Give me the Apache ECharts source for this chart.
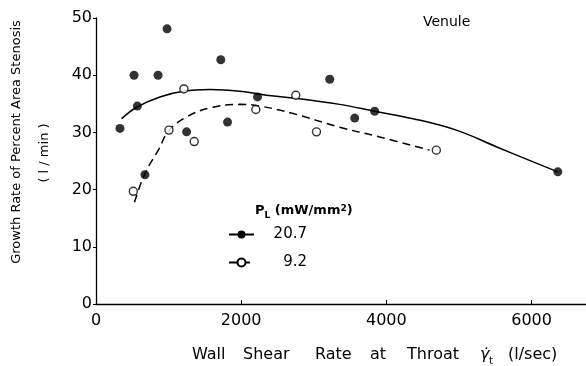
<!DOCTYPE html>
<html>
<head>
<meta charset="utf-8">
<script src="https://cdn.jsdelivr.net/npm/echarts@6/dist/echarts.min.js"></script>
<style>
  html, body { margin: 0; padding: 0; background: #fff; }
  #main { width: 586px; height: 366px; }
</style>
</head>
<body>
<div id="main"></div>
<script>
// measured points, PL = 20.7 mW/mm2 (filled)
const shear207 = [330, 524, 569, 674, 855, 979, 1248, 1719, 1812, 2225, 3220, 3564, 3839, 6362];
const rate207 = [30.7, 40.0, 34.6, 22.6, 40.0, 48.1, 30.1, 42.7, 31.8, 36.2, 39.3, 32.5, 33.7, 23.1];

// measured points, PL = 9.2 mW/mm2 (open)
const shear92 = [514, 1005, 1211, 1353, 2202, 2752, 3037, 4688];
const rate92 = [19.7, 30.4, 37.6, 28.4, 34.0, 36.5, 30.1, 26.9];

// fitted curves
const fitX207 = [353, 560, 880, 1202, 1569, 1982, 2349, 2807, 3358, 3839, 4367, 4963, 5514, 5972, 6362];
const fitY207 = [32.4, 34.4, 36.2, 37.2, 37.5, 37.2, 36.5, 35.9, 34.9, 33.7, 32.4, 30.4, 27.5, 25.1, 23.1];
const fitX92 = [530, 674, 858, 1009, 1248, 1569, 1982, 2257, 2715, 3358, 3908, 4596];
const fitY92 = [17.8, 22.8, 26.9, 30.4, 32.7, 34.3, 34.9, 34.6, 33.3, 30.9, 29.2, 26.9];

const xTicks = [0, 2000, 4000, 6000];
const yTicks = [0, 10, 20, 30, 40, 50];

const zip = (a, b) => a.map((v, i) => [v, b[i]]);

const FONT = 'DejaVu Sans';
const chart = echarts.init(document.getElementById('main'));

const option = {
    backgroundColor: '#fff',
    animation: false,
    textStyle: {fontFamily: FONT, color: '#000'},
    grid: {left: 96, right: 0, top: 18, bottom: 62},
    xAxis: {
        type: 'value',
        min: xTicks[0],
        max: 6750,
        interval: 2000,
        splitLine: {show: false},
        axisLine: {lineStyle: {color: '#000', width: 1.3}},
        axisTick: {inside: true, length: 4, lineStyle: {color: '#000'}},
        axisLabel: {
            showMaxLabel: false,
            margin: 9,
            fontSize: 16,
            color: '#000',
            fontFamily: FONT,
            formatter: v => String(v)
        }
    },
    yAxis: {
        type: 'value',
        min: yTicks[0],
        max: yTicks[yTicks.length - 1],
        interval: 10,
        splitLine: {show: false},
        axisLine: {show: true, lineStyle: {color: '#000', width: 1.3}},
        axisTick: {length: 3, lineStyle: {color: '#000'}},
        axisLabel: {margin: 4, fontSize: 16, color: '#000', fontFamily: FONT}
    },
    legend: {
        data: ['20.7', '9.2'],
        orient: 'vertical',
        left: 223,
        top: 222,
        itemWidth: 25,
        itemHeight: 10,
        itemGap: 13,
        formatter: name => '{a|' + name + '}',
        textStyle: {
            fontFamily: FONT,
            fontSize: 15,
            color: '#000',
            rich: {a: {width: 48, align: 'right', fontSize: 15, fontFamily: FONT}}
        }
    },
    graphic: [
        {
            type: 'text', left: 423, top: 15,
            style: {text: 'Venule', font: '14px "DejaVu Sans"', fill: '#000'}
        },
        {
            type: 'text', left: 255, top: 204,
            style: {
                text: '{p|P}{s|L}{p| (mW/mm}{u|2}{p|)}',
                fill: '#000',
                rich: {
                    p: {fontSize: 13, fontFamily: FONT, fontWeight: 'bold', verticalAlign: 'bottom'},
                    s: {fontSize: 9, fontFamily: FONT, fontWeight: 'bold', verticalAlign: 'bottom', padding: [0, 0, -3, 0]},
                    u: {fontSize: 9, fontFamily: FONT, fontWeight: 'bold', verticalAlign: 'top'}
                }
            }
        },
        {
            type: 'text', x: 17, y: 142, rotation: Math.PI / 2,
            style: {
                text: 'Growth Rate of Percent Area Stenosis',
                font: '13px "DejaVu Sans"', fill: '#000',
                align: 'center', verticalAlign: 'middle'
            }
        },
        {
            type: 'text', x: 45, y: 153, rotation: Math.PI / 2,
            style: {
                text: '( l / min )',
                font: '13px "DejaVu Sans"', fill: '#000',
                align: 'center', verticalAlign: 'middle'
            }
        },
        {
            type: 'text', left: 192, top: 347,
            style: {
                text: '{w1|Wall}{w2|Shear}{w3|Rate}{w4|at}{w5|Throat}{g|γ̇}{s|t}{n|(l/sec)}',
                fill: '#000',
                rich: {
                    w1: {width: 51, fontSize: 16, fontFamily: FONT, verticalAlign: 'bottom'},
                    w2: {width: 72, fontSize: 16, fontFamily: FONT, verticalAlign: 'bottom'},
                    w3: {width: 55, fontSize: 16, fontFamily: FONT, verticalAlign: 'bottom'},
                    w4: {width: 37, fontSize: 16, fontFamily: FONT, verticalAlign: 'bottom'},
                    w5: {width: 73, fontSize: 16, fontFamily: FONT, verticalAlign: 'bottom'},
                    g: {width: 9, fontSize: 16, fontFamily: FONT, fontStyle: 'italic', verticalAlign: 'bottom'},
                    s: {width: 19, fontSize: 10, fontFamily: FONT, verticalAlign: 'bottom', padding: [0, 0, -3, 0]},
                    n: {fontSize: 16, fontFamily: FONT, verticalAlign: 'bottom'}
                }
            }
        }
    ],
    series: [
        {
            name: '20.7',
            type: 'line',
            data: zip(fitX207, fitY207),
            smooth: 0.4,
            symbol: 'circle',
            showSymbol: false,
            lineStyle: {color: '#000', width: 1.5},
            itemStyle: {color: '#000'},
            z: 2
        },
        {
            name: '9.2',
            type: 'line',
            data: zip(fitX92, fitY92),
            smooth: 0.4,
            symbol: 'circle',
            showSymbol: false,
            lineStyle: {color: '#000', width: 1.5, type: [8, 5]},
            itemStyle: {color: '#fff', borderColor: '#000', borderWidth: 1.3},
            z: 2
        },
        {
            name: 'pts207',
            type: 'scatter',
            data: zip(shear207, rate207),
            symbolSize: 9,
            itemStyle: {color: '#000'},
            z: 3
        },
        {
            name: 'pts92',
            type: 'scatter',
            data: zip(shear92, rate92),
            symbolSize: 8,
            itemStyle: {color: '#fff', borderColor: '#000', borderWidth: 1.4},
            z: 3
        }
    ]
};

chart.setOption(option);
</script>
</body>
</html>
